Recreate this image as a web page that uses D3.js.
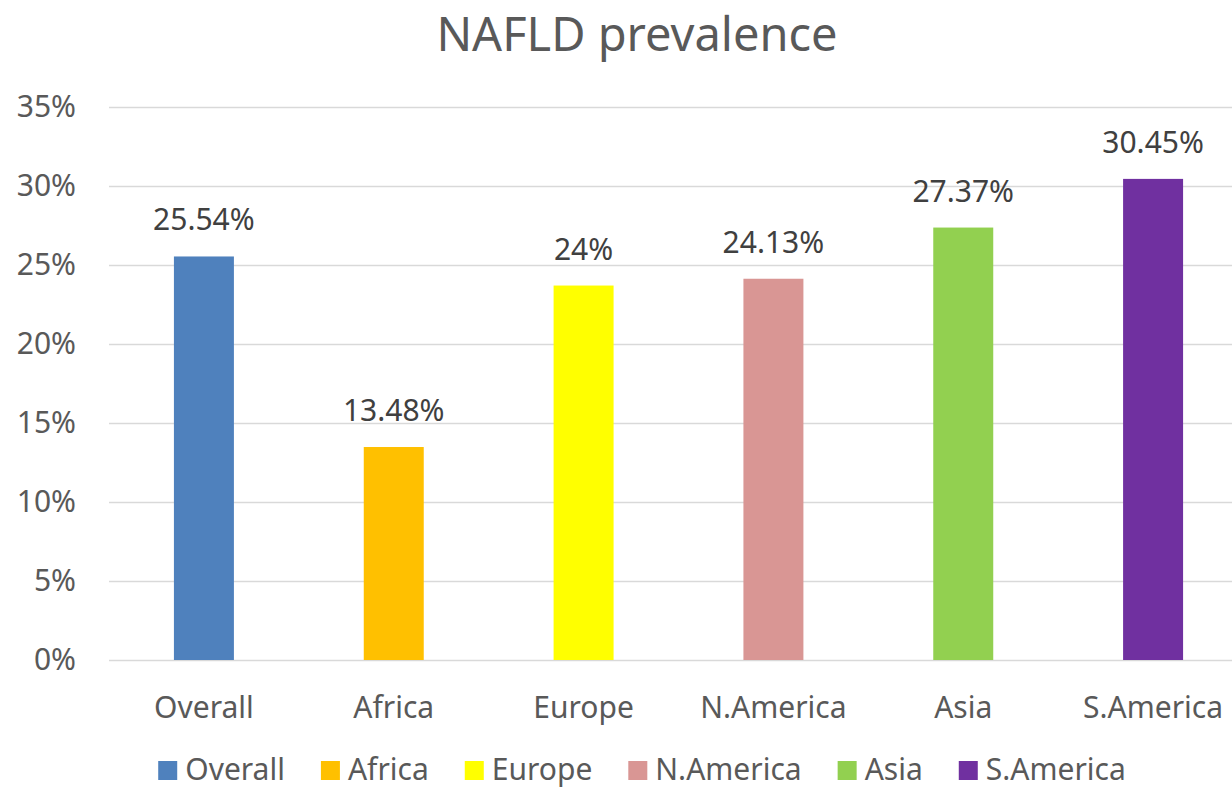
<!DOCTYPE html>
<html>
<head>
    <script src="https://d3js.org/d3.v7.min.js"></script>
    <style>
        body { margin: 0; background: #fff; }
        text { font-family: "Noto Sans", "Open Sans", sans-serif; }
    </style>
</head>
<body>
    <script>
        // data
        const regions = ['Overall', 'Africa', 'Europe', 'N.America', 'Asia', 'S.America'];
        const prevalence = [25.54, 13.48, 23.7, 24.13, 27.37, 30.45];
        const valueLabels = ['25.54%', '13.48%', '24%', '24.13%', '27.37%', '30.45%'];
        const barColors = ['#4f81bd', '#ffc000', '#ffff00', '#d99694', '#92d050', '#7030a0'];
        const yTicks = [0, 5, 10, 15, 20, 25, 30, 35];

        const width = 1232, height = 788;

        const svg = d3.select('body').append('svg')
            .attr('width', width)
            .attr('height', height);

        const x = d3.scaleBand()
            .domain(regions)
            .range([109, 1248])
            .paddingInner(0.684)
            .paddingOuter(0.342);

        const y = d3.scaleLinear()
            .domain([0, 35])
            .range([660, 107]);

        // title
        svg.append('text')
            .attr('x', 637)
            .attr('y', 51)
            .attr('text-anchor', 'middle')
            .attr('font-size', 47)
            .attr('fill', '#595959')
            .text('NAFLD prevalence');

        // gridlines + y labels
        const yAxis = svg.append('g')
            .attr('transform', 'translate(109,0)')
            .call(d3.axisLeft(y).tickValues(yTicks).tickSize(-1140).tickFormat(d => d + '%'));
        yAxis.select('.domain').remove();
        yAxis.selectAll('.tick line').attr('stroke', '#d9d9d9').attr('stroke-width', 1.5);
        yAxis.selectAll('.tick text')
            .attr('x', -33)
            .attr('font-size', 30)
            .attr('fill', '#595959');

        // bars
        svg.selectAll('rect.bar')
            .data(regions)
            .enter().append('rect')
            .attr('class', 'bar')
            .attr('x', d => x(d))
            .attr('y', (d, i) => y(prevalence[i]))
            .attr('width', x.bandwidth())
            .attr('height', (d, i) => y(0) - y(prevalence[i]))
            .attr('fill', (d, i) => barColors[i]);

        // data labels
        svg.selectAll('text.val')
            .data(regions)
            .enter().append('text')
            .attr('class', 'val')
            .attr('x', d => x(d) + x.bandwidth() / 2)
            .attr('y', (d, i) => y(prevalence[i]) - 26)
            .attr('text-anchor', 'middle')
            .attr('font-size', 30)
            .attr('fill', '#404040')
            .text((d, i) => valueLabels[i]);

        // category labels
        svg.selectAll('text.cat')
            .data(regions)
            .enter().append('text')
            .attr('class', 'cat')
            .attr('x', d => x(d) + x.bandwidth() / 2)
            .attr('y', 718)
            .attr('text-anchor', 'middle')
            .attr('font-size', 30)
            .attr('fill', '#595959')
            .text(d => d);

        // legend
        const legend = svg.append('g');
        let lx = 0;
        regions.forEach((r, i) => {
            const item = legend.append('g').attr('transform', `translate(${lx},0)`);
            item.append('rect')
                .attr('x', 0).attr('y', 761)
                .attr('width', 19).attr('height', 19)
                .attr('fill', barColors[i]);
            const t = item.append('text')
                .attr('x', 27).attr('y', 780)
                .attr('font-size', 30)
                .attr('fill', '#595959')
                .text(r);
            lx += 27 + t.node().getComputedTextLength() + 36;
        });
        const lw = lx - 36;
        legend.attr('transform', `translate(${642 - lw / 2},0)`);
    </script>
</body>
</html>
